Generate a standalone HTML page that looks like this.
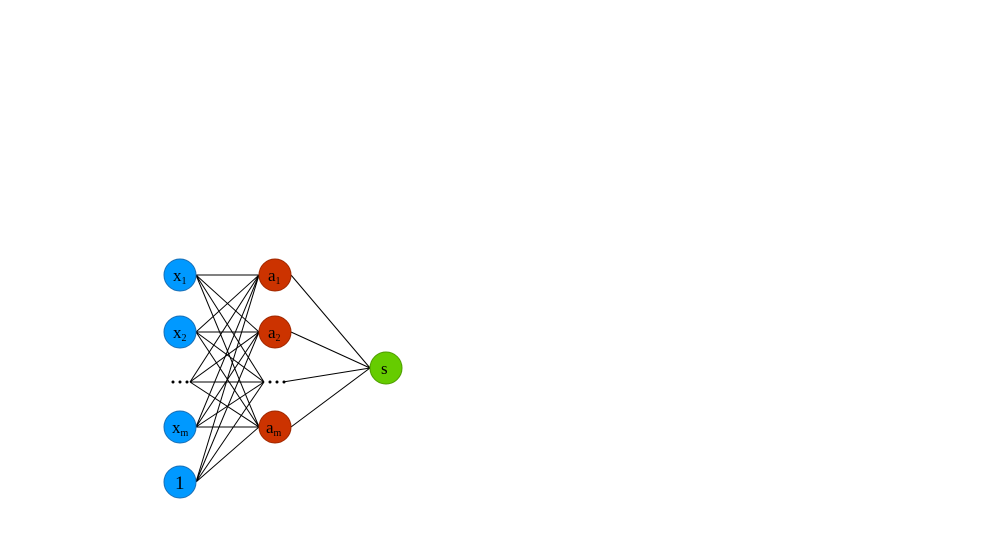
<html><head><style>body{margin:0;background:#fff}</style></head><body>
<svg width="999" height="547" xmlns="http://www.w3.org/2000/svg" style="display:block">
<g stroke="#000" stroke-width="1">
<!-- inputs: x1 275, x2 332, dots 382, xm 427, 1 482 ; hidden a1 275, a2 332, dots 382, am 427 -->
<line x1="196" y1="275" x2="259" y2="275"/><line x1="196" y1="275" x2="259" y2="332"/><line x1="196" y1="275" x2="264" y2="382"/><line x1="196" y1="275" x2="259" y2="427"/>
<line x1="196" y1="332" x2="259" y2="275"/><line x1="196" y1="332" x2="259" y2="332"/><line x1="196" y1="332" x2="264" y2="382"/><line x1="196" y1="332" x2="259" y2="427"/>
<line x1="190" y1="382" x2="259" y2="275"/><line x1="190" y1="382" x2="259" y2="332"/><line x1="190" y1="382" x2="264" y2="382"/><line x1="190" y1="382" x2="259" y2="427"/>
<line x1="196" y1="427" x2="259" y2="275"/><line x1="196" y1="427" x2="259" y2="332"/><line x1="196" y1="427" x2="264" y2="382"/><line x1="196" y1="427" x2="259" y2="427"/>
<line x1="196" y1="482" x2="259" y2="275"/><line x1="196" y1="482" x2="259" y2="332"/><line x1="196" y1="482" x2="264" y2="382"/><line x1="196" y1="482" x2="259" y2="427"/>
<line x1="291" y1="275" x2="370" y2="368"/><line x1="291" y1="332" x2="370" y2="368"/><line x1="283" y1="382" x2="370" y2="368"/><line x1="291" y1="427" x2="370" y2="368"/>
</g>
<g fill="#0099ff" stroke="#1a6fb5" stroke-width="1">
<circle cx="180" cy="275" r="16"/><circle cx="180" cy="332" r="16"/><circle cx="180" cy="427" r="16"/><circle cx="180" cy="482" r="16"/>
</g>
<g fill="#cc3300" stroke="#a02800" stroke-width="1">
<circle cx="275" cy="275" r="16"/><circle cx="275" cy="332" r="16"/><circle cx="275" cy="427" r="16"/>
</g>
<circle cx="386" cy="368" r="16" fill="#66cc00" stroke="#4e9e00"/>
<g font-family="Liberation Serif, serif" fill="#000">
<text x="173" y="281" font-size="17">x<tspan font-size="10" dy="3">1</tspan></text>
<text x="173" y="338" font-size="17">x<tspan font-size="10" dy="3">2</tspan></text>
<text x="172" y="433" font-size="17">x<tspan font-size="10" dy="3">m</tspan></text>
<text x="175" y="489" font-size="19">1</text>
<text x="268" y="281" font-size="17">a<tspan font-size="10" dy="3">1</tspan></text>
<text x="268" y="338" font-size="17">a<tspan font-size="10" dy="3">2</tspan></text>
<text x="266" y="433" font-size="17">a<tspan font-size="10" dy="3">m</tspan></text>
<text x="381" y="374" font-size="17">s</text>
</g>
<g fill="#000">
<circle cx="173" cy="382" r="1.5"/><circle cx="180" cy="382" r="1.5"/><circle cx="187" cy="382" r="1.5"/>
<circle cx="270" cy="382" r="1.5"/><circle cx="277" cy="382" r="1.5"/><circle cx="284" cy="382" r="1.5"/>
</g>
</svg>
</body></html>
